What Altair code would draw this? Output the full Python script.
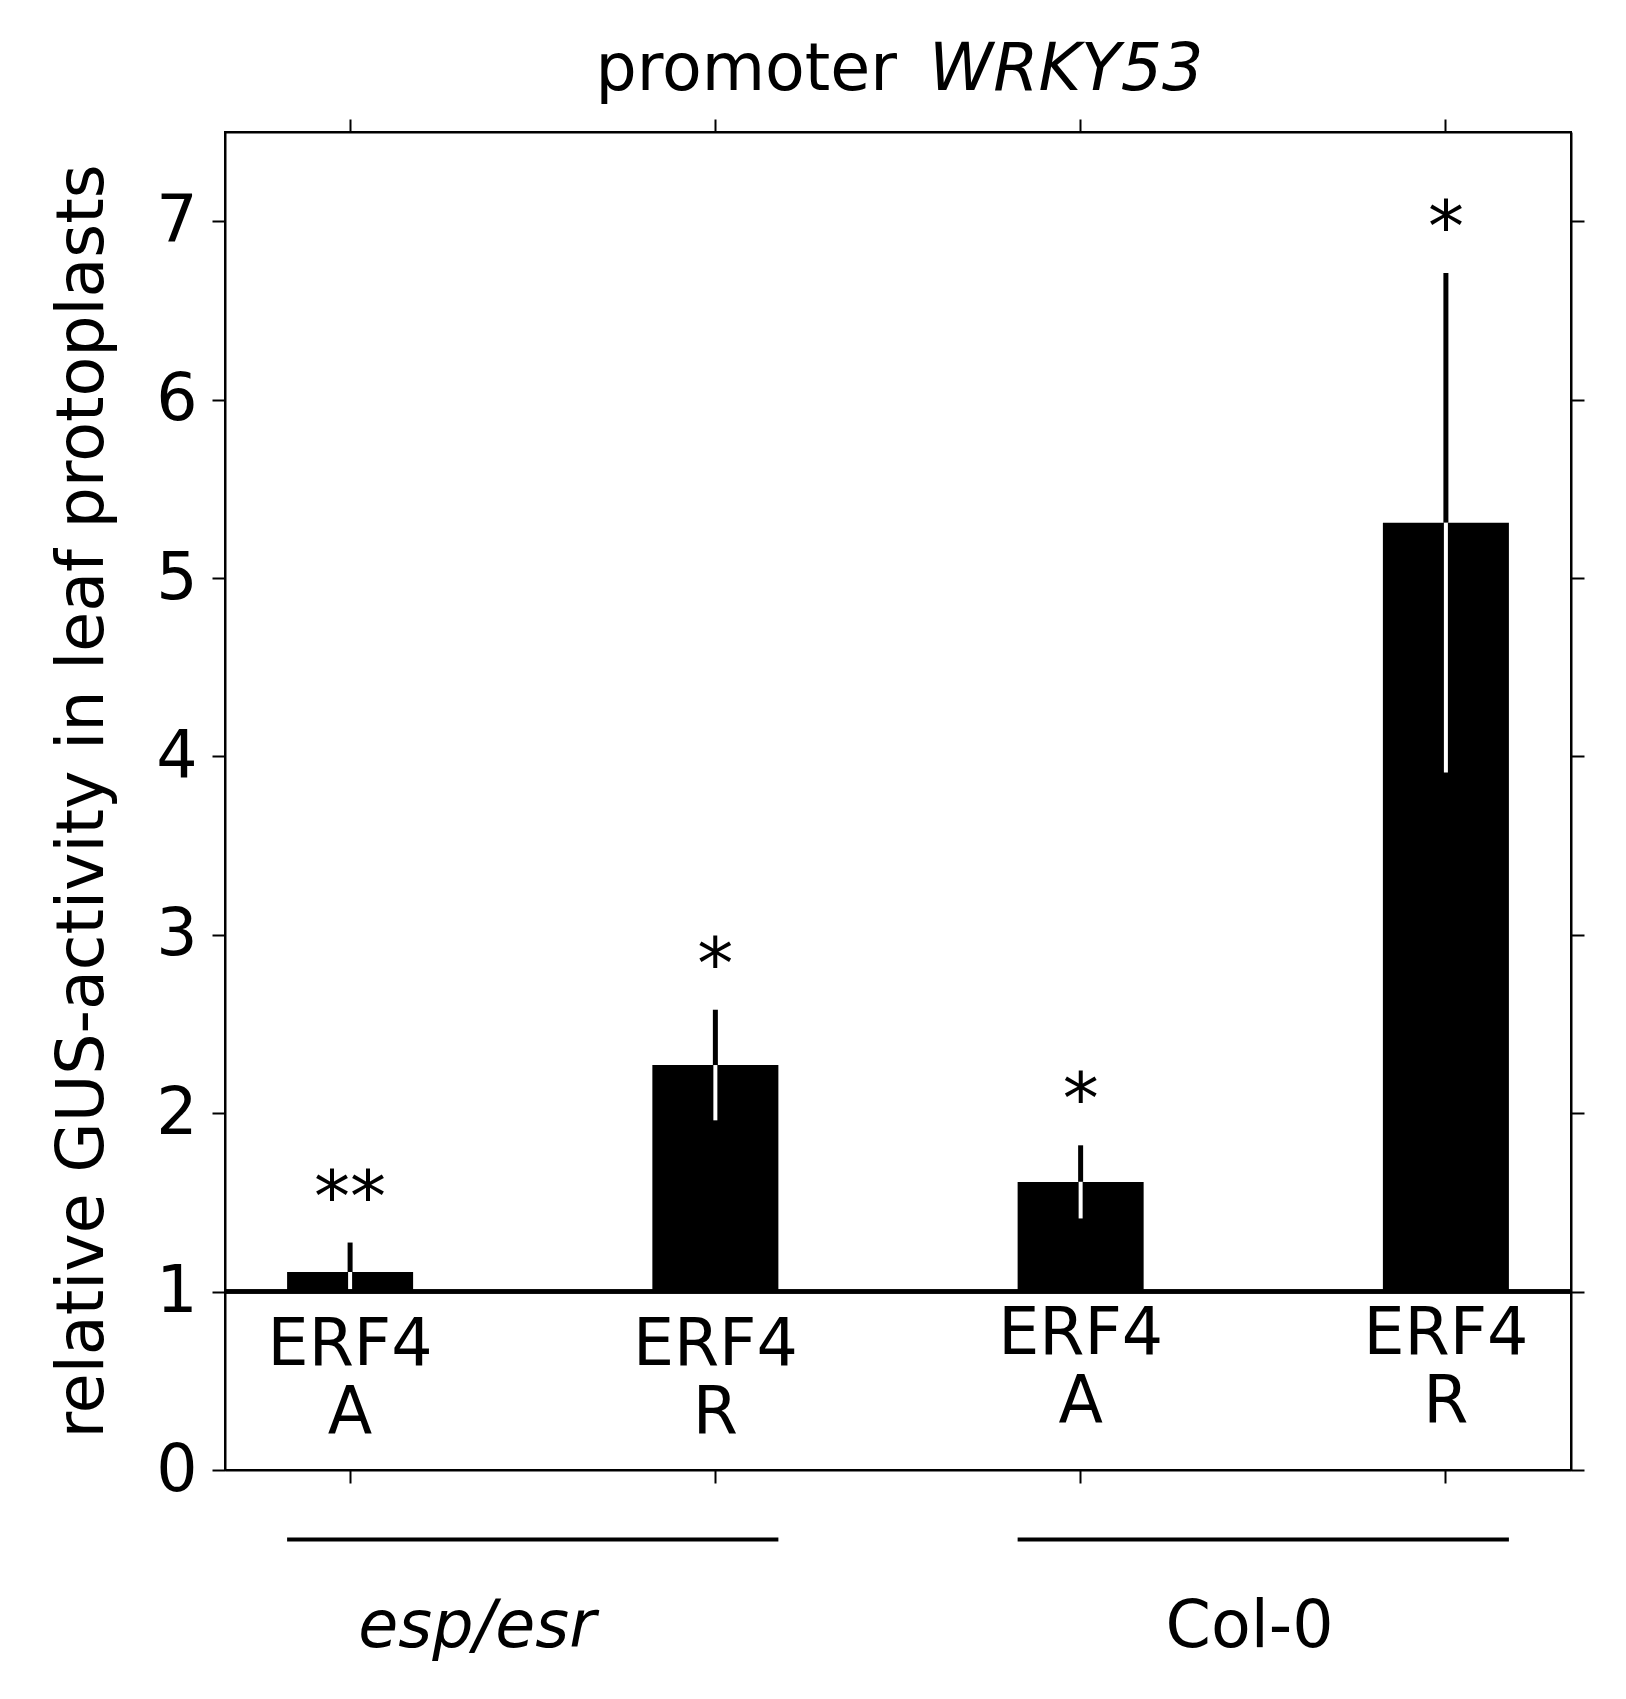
import altair as alt
import pandas as pd

cats = ["esp_A", "esp_R", "col_A", "col_R"]
genotype = ["esp/esr", "esp/esr", "Col-0", "Col-0"]
gene = ["ERF4", "ERF4", "ERF4", "ERF4"]
construct = ["A", "R", "A", "R"]
values = [1.11, 2.27, 1.615, 5.31]
errors = [0.165, 0.31, 0.205, 1.40]
stars = ["**", "*", "*", "*"]
label_y = [0.70, 0.70, 0.76, 0.76]
y_ticks = [0, 1, 2, 3, 4, 5, 6, 7]
groups = ["esp/esr", "Col-0"]
group_first = ["esp_A", "col_A"]
group_last = ["esp_R", "col_R"]

FONT = "DejaVu Sans"
FS = 65

df = pd.DataFrame({"cat": cats, "genotype": genotype, "gene": gene, "construct": construct,
                   "value": values, "err": errors, "star": stars, "lab_y": label_y})
df["hi"] = df["value"] + df["err"]
df["lo"] = df["value"] - df["err"]
df["one"] = 1.0
df["star_y"] = df["hi"]

gdf = pd.DataFrame({"group": groups, "first": group_first, "last": group_last,
                    "line_y": [-0.39, -0.39], "lab_y": [-0.88, -0.88]})

xscale = alt.Scale(domain=cats, paddingInner=0.655, paddingOuter=0.17)
yscale = alt.Scale(domain=[0, 7.5], nice=False, zero=False)

ax_common = dict(tickSize=13, tickWidth=2, tickColor="black", domainColor="black",
                 domainWidth=2, grid=False)

bottom_axis = alt.Axis(orient="bottom", labels=False, title=None, bandPosition=0.5, **ax_common)
top_axis = alt.Axis(orient="top", labels=False, title=None, bandPosition=0.5, **ax_common)
left_axis = alt.Axis(orient="left", values=y_ticks, format="d", labelFont=FONT,
                     labelFontSize=FS, labelColor="black", labelPadding=15,
                     title="relative GUS-activity in leaf protoplasts",
                     titleFont=FONT, titleFontSize=FS, titleFontWeight="normal",
                     titleColor="black", titlePadding=39, **ax_common)
right_axis = alt.Axis(orient="right", values=y_ticks, labels=False, title=None, **ax_common)

base = alt.Chart(df)

bars = base.mark_bar(color="black").encode(
    x=alt.X("cat:N", scale=xscale, axis=bottom_axis, sort=cats),
    y=alt.Y("value:Q", scale=yscale, axis=left_axis),
    y2=alt.Y2("one:Q"),
)

ghost = base.mark_bar(opacity=0).encode(
    x=alt.X("cat:N", scale=xscale, axis=top_axis, sort=cats),
    y=alt.Y("value:Q", scale=yscale, axis=right_axis),
)

err_up = base.mark_rule(color="black", strokeWidth=5).encode(
    x=alt.X("cat:N", scale=xscale, axis=None, sort=cats),
    y=alt.Y("value:Q", scale=yscale, axis=None),
    y2="hi:Q",
)
err_dn = base.mark_rule(color="white", strokeWidth=4).encode(
    x=alt.X("cat:N", scale=xscale, axis=None, sort=cats),
    y=alt.Y("lo:Q", scale=yscale, axis=None),
    y2="value:Q",
)

baseline = base.mark_rule(color="black", strokeWidth=4).encode(
    y=alt.Y("one:Q", scale=yscale, axis=None),
)

star_text = base.mark_text(font=FONT, fontSize=72, baseline="middle", dy=-44, color="black").encode(
    x=alt.X("cat:N", scale=xscale, axis=None, sort=cats),
    y=alt.Y("star_y:Q", scale=yscale, axis=None),
    text="star:N",
)

gene_text = base.mark_text(font=FONT, fontSize=FS, baseline="middle", dy=0,
                           color="black").encode(
    x=alt.X("cat:N", scale=xscale, axis=None, sort=cats),
    y=alt.Y("lab_y:Q", scale=yscale, axis=None),
    text="gene:N",
)
cons_text = base.mark_text(font=FONT, fontSize=FS, baseline="middle", dy=68,
                           color="black").encode(
    x=alt.X("cat:N", scale=xscale, axis=None, sort=cats),
    y=alt.Y("lab_y:Q", scale=yscale, axis=None),
    text="construct:N",
)

gbase = alt.Chart(gdf)
glines = gbase.mark_rule(color="black", strokeWidth=4).encode(
    x=alt.X("first:N", scale=xscale, axis=None, sort=cats, bandPosition=0),
    x2=alt.X2("last:N", bandPosition=1),
    y=alt.Y("line_y:Q", scale=yscale, axis=None),
)
glab_esp = gbase.transform_filter(alt.datum.group == "esp/esr").mark_text(
    font=FONT, fontSize=FS, fontStyle="italic", baseline="middle", dx=127, color="black"
).encode(
    x=alt.X("first:N", scale=xscale, axis=None, sort=cats),
    y=alt.Y("lab_y:Q", scale=yscale, axis=None),
    text="group:N",
)
glab_col = gbase.transform_filter(alt.datum.group == "Col-0").mark_text(
    font=FONT, fontSize=FS, baseline="middle", dx=169, color="black"
).encode(
    x=alt.X("first:N", scale=xscale, axis=None, sort=cats),
    y=alt.Y("lab_y:Q", scale=yscale, axis=None),
    text="group:N",
)

title_a = alt.Chart(pd.DataFrame({"t": ["promoter"]})).mark_text(
    font=FONT, fontSize=FS, align="right", baseline="alphabetic", color="black"
).encode(x=alt.value(672), y=alt.value(-42), text="t:N")
title_b = alt.Chart(pd.DataFrame({"t": ["WRKY53"]})).mark_text(
    font=FONT, fontSize=FS, fontStyle="italic", align="left", baseline="alphabetic", color="black"
).encode(x=alt.value(704), y=alt.value(-42), text="t:N")

chart = alt.layer(
    bars, ghost, err_up, err_dn, baseline, star_text, gene_text, cons_text,
    glines, glab_esp, glab_col, title_a, title_b
).resolve_axis(x="independent", y="independent").properties(
    width=1346, height=1338,
    autosize=alt.AutoSizeParams(type="none"),
    padding={"left": 217, "top": 124, "right": 47, "bottom": 220},
    background="white",
).configure_view(stroke="black", strokeWidth=2)

chart.save("out.html", embed_options={"renderer": "svg", "actions": False})
